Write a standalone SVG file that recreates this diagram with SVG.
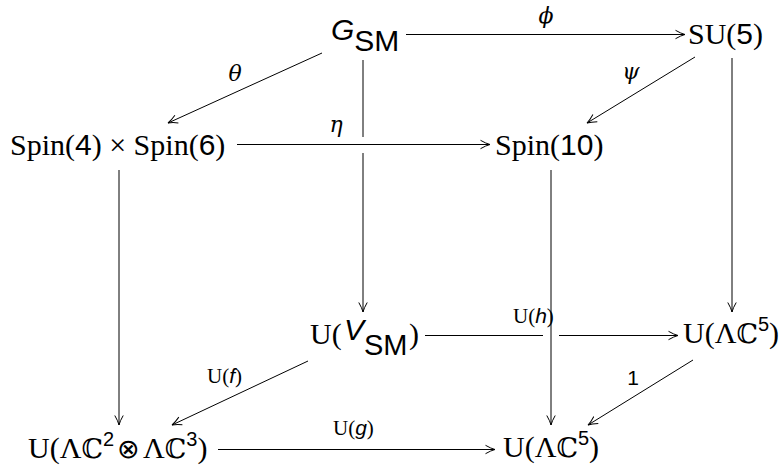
<svg xmlns="http://www.w3.org/2000/svg" width="781" height="466" viewBox="0 0 781 466">
<style>
.s{font-family:"Liberation Serif","DejaVu Serif",serif;font-size:30px;fill:#000}
.ss{font-family:"Liberation Sans","DejaVu Sans",sans-serif;font-style:normal}
.si{font-family:"Liberation Sans","DejaVu Sans",sans-serif;font-style:italic}
.bb{font-family:"DejaVu Serif","DejaVu Sans",serif;font-size:27px}
.ot{font-family:"DejaVu Sans",sans-serif;font-size:27px;font-weight:200}
.sup{font-family:"Liberation Sans","DejaVu Sans",sans-serif;font-size:20px}
.lab{font-family:"Liberation Serif","DejaVu Serif",serif;font-size:21px;fill:#000}
.gr{font-family:"DejaVu Serif","Liberation Serif",serif;font-style:italic;font-size:22px;fill:#000}
.ln{fill:none;stroke:#000;stroke-width:1}
</style>
<defs>
<marker id="ah" markerUnits="userSpaceOnUse" markerWidth="14" markerHeight="12" refX="10" refY="6" orient="auto" viewBox="0 0 14 12">
<path d="M0.5,1.8 Q6,5 10,6 Q6,7 0.5,10.2" fill="none" stroke="#000" stroke-width="1"/>
</marker>
</defs>
<g id="connectors">
<path class="ln" d="M406,34.5 H685" marker-end="url(#ah)"/>
<path class="ln" d="M322,53 L168,123" marker-end="url(#ah)"/>
<path class="ln" d="M695,57 L587,123" marker-end="url(#ah)"/>
<path class="ln" d="M363,60 V137"/>
<path class="ln" d="M363,153 V312" marker-end="url(#ah)"/>
<path class="ln" d="M237,144.5 H490" marker-end="url(#ah)"/>
<path class="ln" d="M119,170 V425" marker-end="url(#ah)"/>
<path class="ln" d="M732,58 V312" marker-end="url(#ah)"/>
<path class="ln" d="M425,335.5 H543"/>
<path class="ln" d="M559,335.5 H678" marker-end="url(#ah)"/>
<path class="ln" d="M551,170 V425" marker-end="url(#ah)"/>
<path class="ln" d="M308,361 L172,425" marker-end="url(#ah)"/>
<path class="ln" d="M693,360 L588,425" marker-end="url(#ah)"/>
<path class="ln" d="M218,449.5 H495" marker-end="url(#ah)"/>
<text class="gr" x="546" y="23" text-anchor="middle">ϕ</text>
<text class="gr" x="235" y="81" text-anchor="middle">θ</text>
<text class="gr" x="631" y="79" text-anchor="middle">ψ</text>
<text class="gr" x="336" y="132" text-anchor="middle">η</text>
<text class="lab" x="513" y="323">U(<tspan class="si">h</tspan>)</text>
<text class="lab" x="207" y="383">U(<tspan class="si">f</tspan>)</text>
<text class="lab" x="333" y="435">U(<tspan class="si">g</tspan>)</text>
<text class="lab" x="633" y="385" text-anchor="middle"><tspan class="ss">1</tspan></text>
</g>
<g id="n-gsm">
<text class="s" x="331" y="40"><tspan class="si">G</tspan><tspan class="ss" y="51">SM</tspan></text>
</g>
<g id="n-su5">
<text class="s" x="688" y="44">SU(<tspan class="ss">5</tspan>)</text>
</g>
<g id="n-spin46">
<text class="s" x="10" y="155">Spin(<tspan class="ss">4</tspan>) × Spin(<tspan class="ss">6</tspan>)</text>
</g>
<g id="n-spin10">
<text class="s" x="495" y="155">Spin(<tspan class="ss">10</tspan>)</text>
</g>
<g id="n-uvsm">
<text class="s" x="310" y="344">U(<tspan class="si" x="344" y="340">V</tspan><tspan class="ss" x="364" y="355" font-size="29">SM</tspan><tspan x="409" y="344">)</tspan></text>
</g>
<g id="n-ulc5-top">
<text class="s" x="683" y="343">U(Λ<tspan class="bb">ℂ</tspan><tspan class="sup" dy="-12">5</tspan><tspan dy="12">)</tspan></text>
</g>
<g id="n-ulc23">
<text class="s" x="28" y="458">U(Λ<tspan class="bb">ℂ</tspan><tspan class="sup" dy="-12">2</tspan><tspan class="ot" x="117" y="458">⊗</tspan><tspan x="143">Λ</tspan><tspan class="bb">ℂ</tspan><tspan class="sup" dy="-12">3</tspan><tspan dy="12">)</tspan></text>
</g>
<g id="n-ulc5-bot">
<text class="s" x="503" y="457">U(Λ<tspan class="bb">ℂ</tspan><tspan class="sup" dy="-12">5</tspan><tspan dy="12">)</tspan></text>
</g>
</svg>
